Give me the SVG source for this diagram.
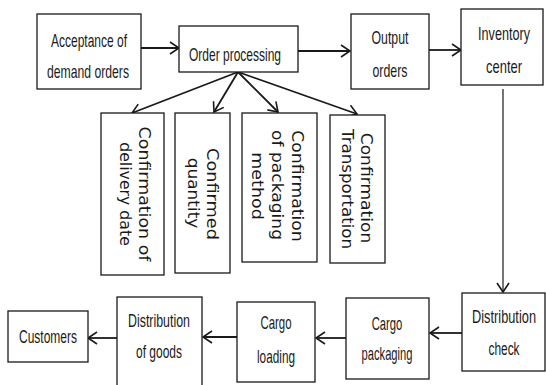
<svg xmlns="http://www.w3.org/2000/svg" width="546" height="385" viewBox="0 0 546 385">
<defs>
<marker id="arr" markerUnits="userSpaceOnUse" markerWidth="12" markerHeight="14" viewBox="0 0 12 14" refX="10" refY="7" orient="auto">
<path d="M1,1 L10,7 L1,13" fill="none" stroke="#1a1a1a" stroke-width="1.6"/>
</marker>
</defs>
<style>
rect{fill:#fff;stroke:#1a1a1a;stroke-width:1.3}
.h{font-family:"Liberation Sans",Arial,sans-serif;font-size:18px;fill:#1a1a1a;text-anchor:middle}
.v{font-family:"DejaVu Sans",Verdana,sans-serif;font-size:15px;fill:#1a1a1a;text-anchor:middle}
.c{fill:none;stroke:#1a1a1a;stroke-width:1.8;marker-end:url(#arr)}
</style>
<rect x="0" y="0" width="546" height="385" style="fill:#fff;stroke:none"/>
<g id="connectors">
<path class="c" d="M141,48 L179,48"/>
<path class="c" d="M298,51 L350,51"/>
<path class="c" d="M429,50 L461,50"/>
<path class="c" d="M503,89 L503,292" style="stroke-width:1.2"/>
<path class="c" d="M462,333 L430,333"/>
<path class="c" d="M346,338 L316,338"/>
<path class="c" d="M237,337 L203,337"/>
<path class="c" d="M117,338 L88,338"/>
<path class="c" d="M238,72 L132,113"/>
<path class="c" d="M238,72 L214,112"/>
<path class="c" d="M238,72 L278,112"/>
<path class="c" d="M238,72 L357,114"/>
</g>
<g id="acceptance">
<rect x="37" y="14" width="104" height="75"/>
<text class="h" transform="translate(89,47) scale(0.666,1)">Acceptance of</text>
<text class="h" transform="translate(88,78) scale(0.678,1)">demand orders</text>
</g>
<g id="order-processing">
<rect x="179" y="26" width="119" height="46"/>
<text class="h" transform="translate(235,61) scale(0.667,1)">Order processing</text>
</g>
<g id="output-orders">
<rect x="351" y="14" width="78" height="75"/>
<text class="h" transform="translate(390,44) scale(0.685,1)">Output</text>
<text class="h" transform="translate(390,77) scale(0.686,1)">orders</text>
</g>
<g id="inventory-center">
<rect x="461" y="9" width="82" height="76"/>
<text class="h" transform="translate(504,40) scale(0.702,1)">Inventory</text>
<text class="h" transform="translate(504,73) scale(0.72,1)">center</text>
</g>
<g id="delivery-date">
<rect x="101" y="113" width="63" height="162"/>
<text class="v" transform="translate(139,194) rotate(90) scale(1.16,1)">Confirmation of</text>
<text class="v" transform="translate(120,194) rotate(90) scale(1.05,1)">delivery date</text>
</g>
<g id="confirmed-quantity">
<rect x="175" y="113" width="55" height="160"/>
<text class="v" transform="translate(207,194) rotate(90) scale(1.18,1)">Confirmed</text>
<text class="v" transform="translate(188,193) rotate(90) scale(1.13,1)">quantity</text>
</g>
<g id="packaging-method">
<rect x="242" y="113" width="75" height="149"/>
<text class="v" transform="translate(292,186) rotate(90) scale(1.15,1)">Confirmation</text>
<text class="v" transform="translate(272,185) rotate(90) scale(1.14,1)">of packaging</text>
<text class="v" transform="translate(252,186) rotate(90) scale(1.17,1)">method</text>
</g>
<g id="transportation">
<rect x="330" y="115" width="55" height="148"/>
<text class="v" transform="translate(361,188) rotate(90) scale(1.14,1)">Confirmation</text>
<text class="v" transform="translate(342,189) rotate(90) scale(1.11,1)">Transportation</text>
</g>
<g id="distribution-check">
<rect x="462" y="293" width="83" height="78"/>
<text class="h" transform="translate(504,323) scale(0.711,1)">Distribution</text>
<text class="h" transform="translate(504,355) scale(0.66,1)">check</text>
</g>
<g id="cargo-packaging">
<rect x="346" y="298" width="83" height="81"/>
<text class="h" transform="translate(387,330) scale(0.625,1)">Cargo</text>
<text class="h" transform="translate(387,360) scale(0.62,1)">packaging</text>
</g>
<g id="cargo-loading">
<rect x="237" y="302" width="78" height="80"/>
<text class="h" transform="translate(276,329) scale(0.635,1)">Cargo</text>
<text class="h" transform="translate(276,363) scale(0.655,1)">loading</text>
</g>
<g id="distribution-goods">
<rect x="117" y="297" width="85" height="92"/>
<text class="h" transform="translate(159,327) scale(0.689,1)">Distribution</text>
<text class="h" transform="translate(159,358) scale(0.666,1)">of goods</text>
</g>
<g id="customers">
<rect x="8" y="311" width="80" height="51"/>
<text class="h" transform="translate(48,343) scale(0.667,1)">Customers</text>
</g>
</svg>
